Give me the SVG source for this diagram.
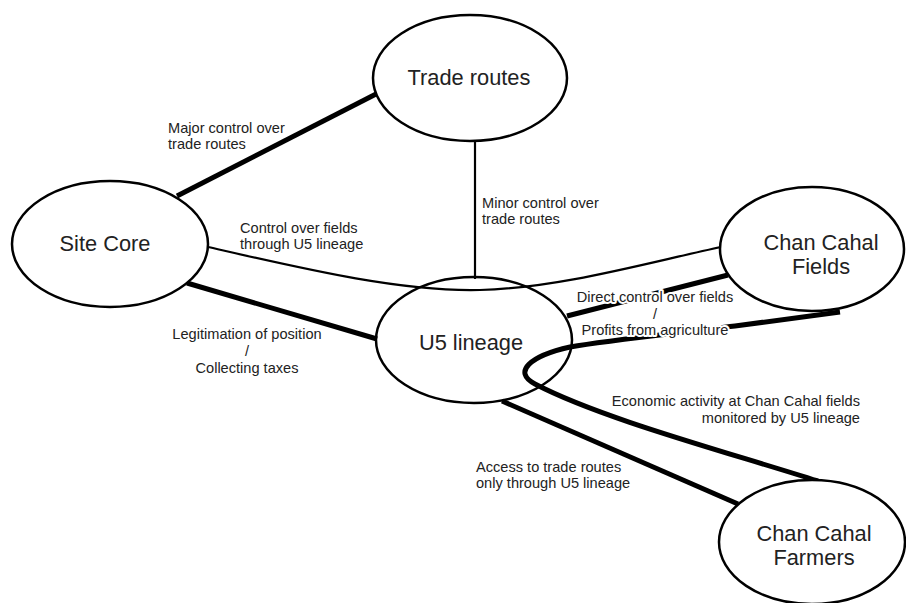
<svg xmlns="http://www.w3.org/2000/svg" width="906" height="603" viewBox="0 0 906 603">
<style>
.node ellipse{fill:#fff;stroke:#000;stroke-width:2.5}
.node text{font-family:"Liberation Sans",Arial,sans-serif;font-size:21.8px;fill:#222;text-anchor:middle}
.thick{fill:none;stroke:#000;stroke-width:5;stroke-linecap:butt}
.thin{fill:none;stroke:#000;stroke-width:2.2}
.lbl{font-family:"Liberation Sans",Arial,sans-serif;font-size:14.6px;fill:#222;stroke:#fff;stroke-width:4;paint-order:stroke;stroke-linejoin:round}
</style>
<rect width="906" height="603" fill="#fff"/>
<g id="connectors">
<line class="thick" x1="177" y1="196" x2="378" y2="93"/>
<line class="thin" x1="475" y1="142" x2="475" y2="279"/>
<path class="thin" d="M208,247 C300,268 400,292 480,290 C560,288 650,262 721,247"/>
<line class="thick" x1="187" y1="283" x2="377" y2="339"/>
<line class="thick" x1="567" y1="316" x2="728" y2="275"/>
<path class="thick" d="M840,312 L735,326 C680,333 610,340 570,347 C530,356 512,372 535,384 C600,418 720,450 818,481"/>
<line class="thick" x1="502" y1="401" x2="738" y2="504"/>
</g>
<g id="node-trade-routes" class="node">
<ellipse cx="470" cy="78" rx="97" ry="63"/>
<text x="469" y="85">Trade routes</text>
</g>
<g id="node-site-core" class="node">
<ellipse cx="110" cy="244" rx="98" ry="63"/>
<text x="105" y="251">Site Core</text>
</g>
<g id="node-u5-lineage" class="node">
<ellipse cx="474" cy="340" rx="98" ry="63" style="fill:none"/>
<text x="471" y="350">U5 lineage</text>
</g>
<g id="node-fields" class="node">
<ellipse cx="812" cy="249" rx="92" ry="62"/>
<text x="821" y="250">Chan Cahal</text>
<text x="821" y="274">Fields</text>
</g>
<g id="node-farmers" class="node">
<ellipse cx="812" cy="542" rx="93" ry="62"/>
<text x="814" y="541">Chan Cahal</text>
<text x="814" y="565">Farmers</text>
</g>
<g id="labels">
<text class="lbl" x="168" y="133">Major control over</text>
<text class="lbl" x="168" y="149">trade routes</text>
<text class="lbl" x="482" y="208">Minor control over</text>
<text class="lbl" x="482" y="224">trade routes</text>
<text class="lbl" x="240" y="233">Control over fields</text>
<text class="lbl" x="240" y="249">through U5 lineage</text>
<text class="lbl" x="247" y="339" text-anchor="middle">Legitimation of position</text>
<text class="lbl" x="247" y="356" text-anchor="middle">/</text>
<text class="lbl" x="247" y="373" text-anchor="middle">Collecting taxes</text>
<text class="lbl" x="655" y="302" text-anchor="middle">Direct control over fields</text>
<text class="lbl" x="655" y="319" text-anchor="middle">/</text>
<text class="lbl" x="655" y="335" text-anchor="middle">Profits from agriculture</text>
<text class="lbl" x="860" y="406" text-anchor="end">Economic activity at Chan Cahal fields</text>
<text class="lbl" x="860" y="423" text-anchor="end">monitored by U5 lineage</text>
<text class="lbl" x="476" y="472">Access to trade routes</text>
<text class="lbl" x="476" y="488">only through U5 lineage</text>
</g>
</svg>
